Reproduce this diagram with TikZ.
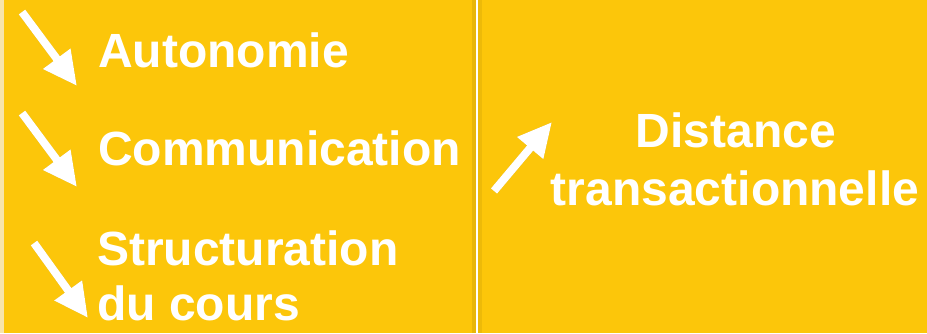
\documentclass[tikz,border=0pt]{standalone}
\usepackage{fontspec}
\setmainfont{Liberation Sans}
\usetikzlibrary{arrows.meta}
\definecolor{bg}{RGB}{252,198,10}
\definecolor{edge}{RGB}{247,228,170}
\begin{document}
\begin{tikzpicture}[x=1pt,y=-1pt,
  lbl/.style={text=white,font=\fontsize{48}{55}\selectfont\bfseries,inner sep=0pt},
  warrow/.style={draw=white,line width=8pt,-{Triangle[length=34pt,width=32pt,fill=white]}},
  sharrow/.style={draw=black,line width=8pt,-{Triangle[length=34pt,width=32pt,fill=black]}}]
\fill[bg] (0,0) rectangle (927,333);
\useasboundingbox (0,0) rectangle (927,333);
\fill[edge] (0,0) rectangle (4,333);
% divider with soft shadow
\fill[black,opacity=0.08] (472,0) rectangle (476,333);
\fill[black,opacity=0.06] (478,0) rectangle (482,333);
\draw[white,line width=2.8pt] (477,0) -- (477,333);
% labels
\node[lbl,anchor=base west] (auto) at (98,67) {Autonomie};
\node[lbl,anchor=base west] (comm) at (98,165) {Communication};
\node[lbl,anchor=base west] (struA) at (97,265) {Structuration};
\node[lbl,anchor=base west] (struB) at (97,320) {du cours};
\node[lbl,anchor=base] (distA) at (736,147) {Distance};
\node[lbl,anchor=base] (distB) at (735,205) {transactionnelle};
% arrow end points
\coordinate (a1s) at (22,12);  \coordinate (a1e) at (77,86);
\coordinate (a2s) at (22,113); \coordinate (a2e) at (77,187);
\coordinate (a3s) at (34,243); \coordinate (a3e) at (88,318);
\coordinate (a4s) at (494,191); \coordinate (a4e) at (552,122);
% shadows
\begin{scope}[shift={(2,3)},transparency group,opacity=0.16]
\draw[sharrow] (a1s) -- (a1e);
\draw[sharrow] (a2s) -- (a2e);
\draw[sharrow] (a3s) -- (a3e);
\draw[sharrow] (a4s) -- (a4e);
\end{scope}
% arrows
\draw[warrow] (a1s) -- (a1e);
\draw[warrow] (a2s) -- (a2e);
\draw[warrow] (a3s) -- (a3e);
\draw[warrow] (a4s) -- (a4e);
\end{tikzpicture}
\end{document}
